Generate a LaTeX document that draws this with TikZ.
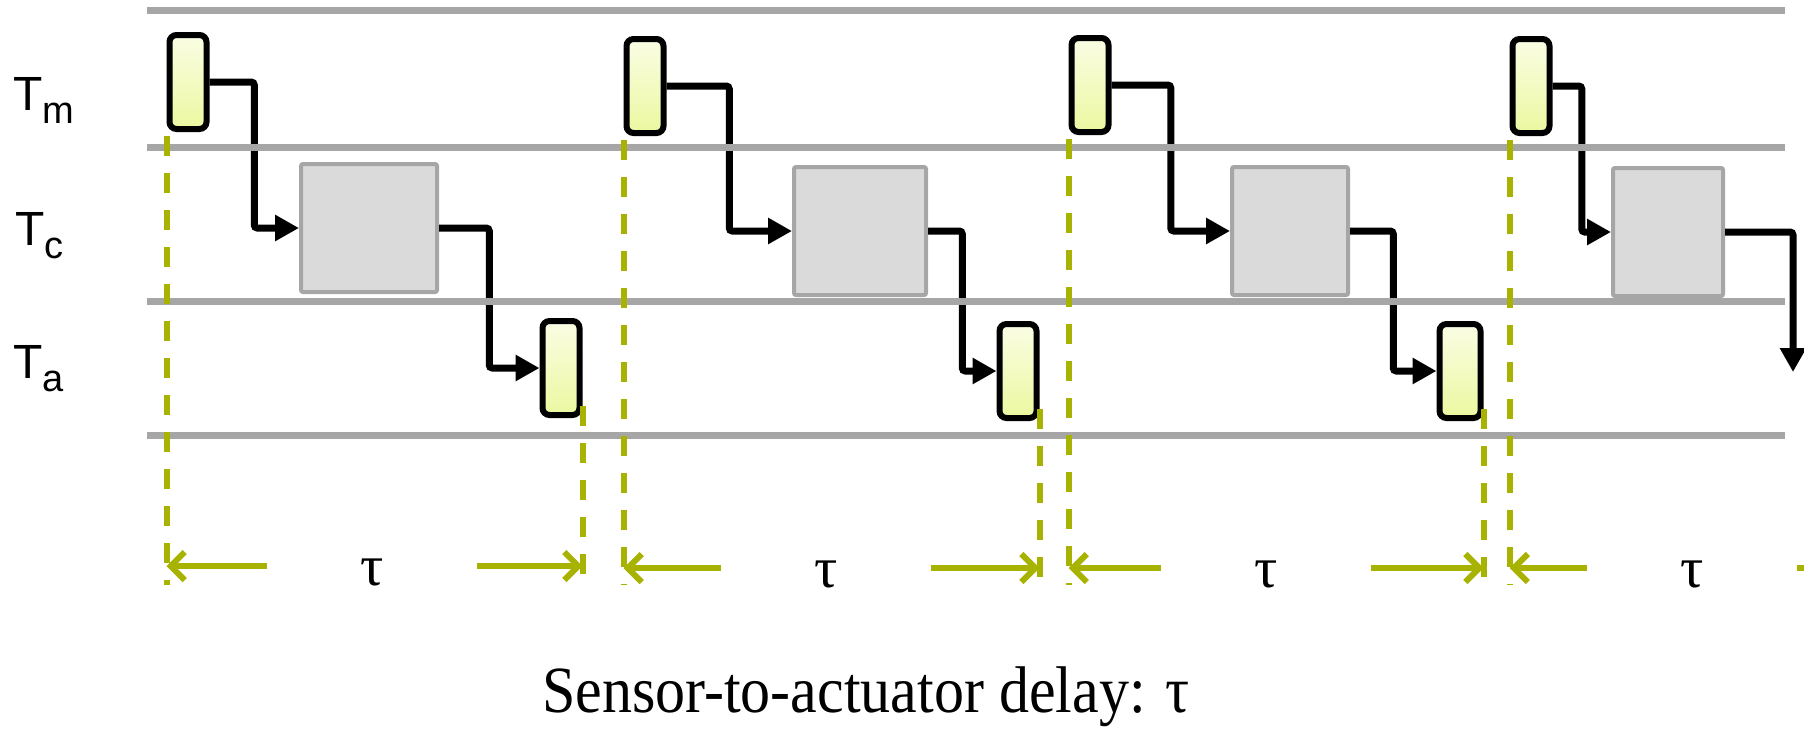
\documentclass[tikz,border=0pt]{standalone}
\usepackage{fontspec}
\setmainfont{Liberation Serif}
\newfontfamily\lanefont{Liberation Sans}
\usetikzlibrary{arrows.meta,calc}

\definecolor{lanegray}{RGB}{166,166,166}
\definecolor{boxgray}{RGB}{218,218,218}
\definecolor{delaygreen}{RGB}{168,178,0}
\definecolor{yellowtop}{RGB}{250,253,228}
\definecolor{yellowbot}{RGB}{236,248,160}

\newcommand{\lanelabel}[1]{T\raisebox{-13pt}{\fontsize{38}{38}\selectfont #1}}

\begin{document}
\begin{tikzpicture}[x=1pt, y=-1pt,
    task/.style={draw=black, line width=6pt, rounded corners=7pt,
                 top color=yellowtop, bottom color=yellowbot,
                 minimum width=37pt, minimum height=94pt, inner sep=0pt},
    comp/.style={draw=lanegray, fill=boxgray, line width=4pt,
                 rounded corners=2pt, minimum height=128pt, inner sep=0pt},
    flow/.style={-{Triangle[length=24pt,width=25pt]}, line width=7pt,
                 rounded corners=3pt},
    lane/.style={lanegray, line width=7pt},
    tick/.style={delaygreen, line width=6pt, dash pattern=on 20pt off 17pt},
    dim/.style={-{Straight Barb[length=14pt,width=28pt]}, delaygreen,
                line width=6pt},
    gap/.style={minimum width=210pt, inner sep=0pt, text height=50pt,
                text depth=12pt, font=\fontsize{58}{58}\selectfont},
    lbl/.style={anchor=base west, inner sep=0pt,
                font=\lanefont\fontsize{48}{48}\selectfont},
]

    \useasboundingbox (0,0) rectangle (1804,729);

    \node[lbl] (lblm) at (13,110) {\lanelabel{m}};
    \node[lbl] (lblc) at (15,245) {\lanelabel{c}};
    \node[lbl] (lbla) at (13,378) {\lanelabel{a}};

    \node[task] (tm1) at (188,82) {};
    \node[comp, minimum width=136pt] (cp1) at (369,228) {};
    \node[task] (ta1) at (561,368) {};
    \node[task] (tm2) at (645,86) {};
    \node[comp, minimum width=132pt] (cp2) at (860,231) {};
    \node[task] (ta2) at (1018,371) {};
    \node[task] (tm3) at (1090,85) {};
    \node[comp, minimum width=116pt] (cp3) at (1290,231) {};
    \node[task, minimum width=41pt] (ta3) at (1460,371) {};
    \node[task] (tm4) at (1531,86) {};
    \node[comp, minimum width=110pt] (cp4) at (1668,232) {};
    \coordinate (out4) at (1793,372);

    \draw[flow] (tm1.east) -| ($(tm1.east)!.5!(cp1.west)$) |- (cp1.west);
    \draw[flow] (cp1.east) -| ($(cp1.east)!.5!(ta1.west)$) |- (ta1.west);
    \draw[flow] (tm2.east) -| ($(tm2.east)!.5!(cp2.west)$) |- (cp2.west);
    \draw[flow] (cp2.east) -| ($(cp2.east)!.5!(ta2.west)$) |- (ta2.west);
    \draw[flow] (tm3.east) -| ($(tm3.east)!.5!(cp3.west)$) |- (cp3.west);
    \draw[flow] (cp3.east) -| ($(cp3.east)!.5!(ta3.west)$) |- (ta3.west);
    \draw[flow] (tm4.east) -| ($(tm4.east)!.5!(cp4.west)$) |- (cp4.west);
    \draw[flow] (cp4.east) -| (out4);

    \draw[lane] (147,10) -- (1785,10);
    \draw[lane] (147,147) -- (1785,147);
    \draw[lane] (147,301) -- (1785,301);
    \draw[lane] (147,435) -- (1785,435);

    \coordinate (floor) at (0,585);
    \coordinate (edge) at (1812,0);
    \draw[tick] ([yshift=-4pt]tm1.south west) -- (tm1.south west |- floor);
    \draw[tick] ([yshift=12pt]ta1.south east) -- (ta1.south east |- floor);
    \draw[tick] ([yshift=-4pt]tm2.south west) -- (tm2.south west |- floor);
    \draw[tick] ([yshift=12pt]ta2.south east) -- (ta2.south east |- floor);
    \draw[tick] ([yshift=-4pt]tm3.south west) -- (tm3.south west |- floor);
    \draw[tick] ([yshift=12pt]ta3.south east) -- (ta3.south east |- floor);
    \draw[tick] ([yshift=-4pt]tm4.south west) -- (tm4.south west |- floor);

    \node[gap] (tau1) at (372,566) {τ};
    \node[gap] (tau2) at (826,568) {τ};
    \node[gap] (tau3) at (1266,568) {τ};
    \node[gap] (tau4) at (1692,568) {τ};
    \draw[dim] (tau1.west) -- (tau1.west -| tm1.south west);
    \draw[dim] (tau1.east) -- (tau1.east -| ta1.south east);
    \draw[dim] (tau2.west) -- (tau2.west -| tm2.south west);
    \draw[dim] (tau2.east) -- (tau2.east -| ta2.south east);
    \draw[dim] (tau3.west) -- (tau3.west -| tm3.south west);
    \draw[dim] (tau3.east) -- (tau3.east -| ta3.south east);
    \draw[dim] (tau4.west) -- (tau4.west -| tm4.south west);
    \draw[delaygreen, line width=6pt] (tau4.east) -- (tau4.east -| edge);

    \node[anchor=base, inner sep=0pt, font=\fontsize{60}{60}\selectfont]
        (caption) at (866,712) {\scalebox{1}[1.1]{Sensor-to-actuator delay: τ}};

\end{tikzpicture}
\end{document}
